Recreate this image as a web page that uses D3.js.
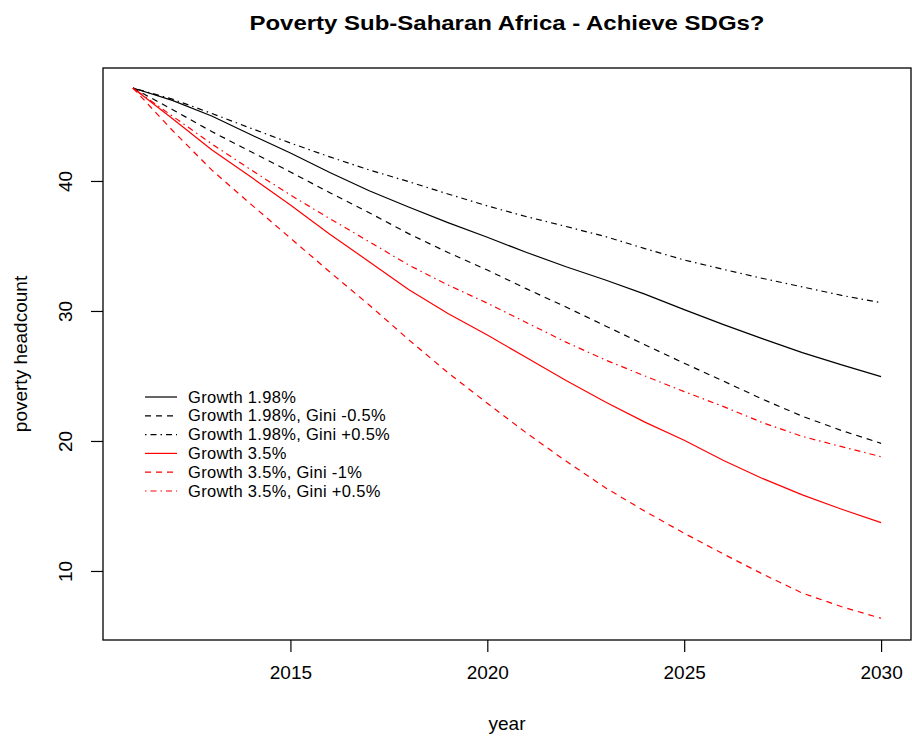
<!DOCTYPE html>
<html><head><meta charset="utf-8">
<script src="https://cdn.jsdelivr.net/npm/d3@7"></script>
<style>body{margin:0;background:#fff}svg{display:block}text{font-family:"Liberation Sans",Arial,sans-serif;fill:#000}</style>
</head><body><svg id="c" width="912" height="738"></svg>
<script>
const years = [2011,2012,2013,2014,2015,2016,2017,2018,2019,2020,2021,2022,2023,2024,2025,2026,2027,2028,2029,2030];
const growth198 = [47.15,46.2,45.0,43.55,42.15,40.65,39.25,38.0,36.8,35.67,34.5,33.4,32.38,31.3,30.1,28.95,27.85,26.8,25.85,24.95];
const growth198GiniMinus = [47.15,45.5,43.8,42.25,40.69,39.1,37.56,35.95,34.5,33.15,31.7,30.3,28.85,27.4,25.98,24.6,23.2,21.9,20.8,19.82];
const growth198GiniPlus = [47.15,46.3,45.2,44.05,42.92,41.85,40.85,39.95,39.0,38.08,37.25,36.5,35.72,34.8,33.92,33.2,32.5,31.85,31.2,30.64];
const growth35 = [47.15,44.8,42.4,40.3,38.15,35.9,33.79,31.65,29.8,28.15,26.4,24.65,23.0,21.45,20.05,18.5,17.1,15.85,14.75,13.72];
const growth35GiniMinus = [47.15,43.9,40.85,38.2,35.6,33.0,30.46,27.8,25.25,22.9,20.6,18.45,16.4,14.6,12.9,11.3,9.75,8.3,7.25,6.36];
const growth35GiniPlus = [47.15,45.0,42.85,40.85,38.92,37.1,35.33,33.54,32.0,30.6,29.1,27.6,26.23,25.0,23.8,22.64,21.4,20.35,19.56,18.79];
const seriesNames = ["Growth 1.98%","Growth 1.98%, Gini -0.5%","Growth 1.98%, Gini +0.5%","Growth 3.5%","Growth 3.5%, Gini -1%","Growth 3.5%, Gini +0.5%"];
const xTicks = [2015,2020,2025,2030];
const yTicks = [10,20,30,40];

const seriesData = [growth198,growth198GiniMinus,growth198GiniPlus,growth35,growth35GiniMinus,growth35GiniPlus];
const colors = ["#000","#000","#000","#ff0000","#ff0000","#ff0000"];
const dashes = [null,"6,5","1.5,4,6,4",null,"6,5","1.5,4,6,4"];

const svg = d3.select("#c");
const L=103,R=911,T=68,B=640;
const x = d3.scaleLinear().domain([2010.24,2030.76]).range([L,R]);
const y = d3.scaleLinear().domain([4.69,48.69]).range([B,T]);

const line = d3.line().x((d,i)=>x(years[i])).y(d=>y(d));
seriesData.forEach((s,k)=>{
  svg.append("path").datum(s).attr("d",line).attr("fill","none")
    .attr("stroke",colors[k]).attr("stroke-width",1.2)
    .attr("stroke-dasharray",dashes[k]);
});

svg.append("rect").attr("x",L).attr("y",T).attr("width",R-L).attr("height",B-T)
  .attr("fill","none").attr("stroke","#000").attr("stroke-width",1.3);

// x axis
const xa = svg.append("g").attr("transform",`translate(0,${B})`)
  .call(d3.axisBottom(x).tickValues(xTicks).tickFormat(d3.format("d")).tickSize(12).tickPadding(14));
xa.select(".domain").remove();
xa.selectAll("line").attr("stroke","#000").attr("stroke-width",1.2);
xa.selectAll("text").attr("font-size",19).attr("font-family","Liberation Sans, Arial, sans-serif").attr("fill","#000");

// y axis
const ya = svg.append("g").attr("transform",`translate(${L},0)`)
  .call(d3.axisLeft(y).tickValues(yTicks).tickSize(12));
ya.select(".domain").remove();
ya.selectAll("line").attr("stroke","#000").attr("stroke-width",1.2);
ya.selectAll("text").attr("x",null).attr("dy",null).attr("font-size",19)
  .attr("font-family","Liberation Sans, Arial, sans-serif").attr("fill","#000")
  .attr("text-anchor","middle").attr("transform",`translate(${72-L},0) rotate(-90)`);

svg.append("text").attr("x",(L+R)/2).attr("y",30).attr("text-anchor","middle")
  .attr("font-size",21).attr("font-weight","bold").attr("textLength",515).attr("lengthAdjust","spacingAndGlyphs")
  .text("Poverty Sub-Saharan Africa - Achieve SDGs?");
svg.append("text").attr("x",(L+R)/2).attr("y",730).attr("text-anchor","middle").attr("font-size",19).text("year");
svg.append("text").attr("transform",`translate(27,${(T+B)/2}) rotate(-90)`).attr("text-anchor","middle").attr("font-size",19).text("poverty headcount");

// legend
const lg = svg.append("g");
seriesNames.forEach((n,k)=>{
  const yy = 397 + k*18.8;
  lg.append("line").attr("x1",145).attr("x2",177).attr("y1",yy).attr("y2",yy)
    .attr("stroke",colors[k]).attr("stroke-width",1.2).attr("stroke-dasharray",dashes[k]);
  lg.append("text").attr("x",188).attr("y",yy+5.5).attr("font-size",16.5).attr("letter-spacing",0.3).text(n);
});
</script></body></html>
